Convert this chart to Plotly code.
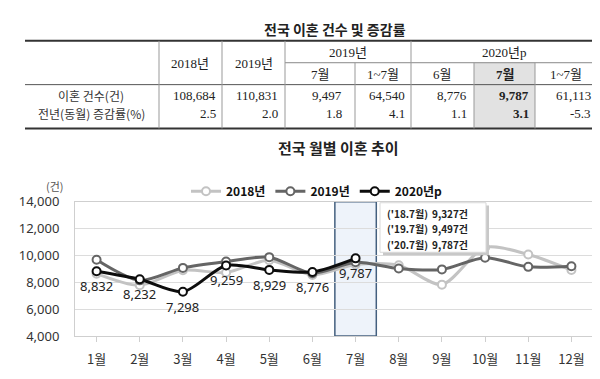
import plotly.graph_objects as go

# ---------------- data ----------------
months = ["1월", "2월", "3월", "4월", "5월", "6월", "7월", "8월", "9월", "10월", "11월", "12월"]
s2018 = [8650, 7780, 8900, 8730, 9650, 8550, 9327, 9270, 7830, 10600, 10078, 8915]
s2019 = [9684, 8150, 9077, 9545, 9877, 8681, 9497, 9030, 8965, 9837, 9156, 9199]
s2020 = [8832, 8232, 7298, 9259, 8929, 8776, 9787]
series_names = ["2018년", "2019년", "2020년p"]

table_title = "전국 이혼 건수 및 증감률"
row_labels = ["이혼 건수(건)", "전년(동월) 증감률(%)"]
col_top = ["2018년", "2019년", "2019년", "2020년p"]
col_sub = ["7월", "1~7월", "6월", "7월", "1~7월"]
row_counts = ["108,684", "110,831", "9,497", "64,540", "8,776", "9,787", "61,113"]
row_rates = ["2.5", "2.0", "1.8", "4.1", "1.1", "3.1", "-5.3"]
tooltip_lines = [("('18.7월)", "9,327건"), ("('19.7월)", "9,497건"), ("('20.7월)", "9,787건")]

W, H = 600, 379
def px(x): return x / W
def py(y): return 1 - y / H

SANS = "Noto Sans CJK KR, Noto Sans, sans-serif"
SERIF = "Liberation Serif, Noto Sans CJK KR, serif"

fig = go.Figure()

colors = ["#c3c3c3", "#656565", "#0d0d0d"]
for name, vals, col in zip(series_names, [s2018, s2019, s2020], colors):
    fig.add_trace(go.Scatter(
        x=months[:len(vals)], y=vals, name=name, mode="lines+markers",
        line=dict(color=col, width=3, shape="spline", smoothing=0.8),
        marker=dict(symbol="circle", size=8, color="white", line=dict(color=col, width=2)),
        hoverinfo="skip"))

shapes = []
annos = []

# data labels for 2020 (below the points)
for m, v in zip(months, s2020):
    annos.append(dict(x=m, y=v, xref="x", yref="y", text=f"{v:,}", showarrow=False,
                      yshift=-15, xanchor="center", yanchor="middle",
                      font=dict(family="Noto Sans, sans-serif", size=13, color="#222")))

# highlight July column
shapes.append(dict(type="rect", xref="x", yref="y", x0=5.52, x1=6.48, y0=4000, y1=14000,
                   fillcolor="#eef3fa", line=dict(color="#44607f", width=1.5), layer="below"))

# tooltip box
bx0, bx1, by0, by1 = 372, 478, 195, 247
shapes.append(dict(type="rect", xref="paper", yref="paper", x0=px(bx0 + 3), x1=px(bx1 + 3),
                   y0=py(by1 + 3), y1=py(by0 + 3), fillcolor="#c8c8c8", line=dict(width=0), layer="above"))
shapes.append(dict(type="rect", xref="paper", yref="paper", x0=px(bx0), x1=px(bx1),
                   y0=py(by1), y1=py(by0), fillcolor="white", line=dict(color="#d8d8d8", width=1), layer="above"))
for i, (a, b) in enumerate(tooltip_lines):
    yy = 206 + i * 16.5
    annos.append(dict(x=px(377), y=py(yy), xref="paper", yref="paper", text=a, showarrow=False,
                      xanchor="left", yanchor="middle", font=dict(family=SANS, size=10, color="#222", weight="bold")))
    annos.append(dict(x=px(422), y=py(yy), xref="paper", yref="paper", text=b, showarrow=False,
                      xanchor="left", yanchor="middle", font=dict(family=SANS, size=10, color="#222", weight="bold")))

# ---------------- table ----------------
def hline(y, x0, x1, w, c):
    shapes.append(dict(type="line", xref="paper", yref="paper", x0=px(x0), x1=px(x1), y0=py(y), y1=py(y),
                       line=dict(color=c, width=w)))
def vline(x, y0, y1, w, c):
    shapes.append(dict(type="line", xref="paper", yref="paper", x0=px(x), x1=px(x), y0=py(y0), y1=py(y1),
                       line=dict(color=c, width=w)))

shapes.append(dict(type="rect", xref="paper", yref="paper", x0=px(466), x1=px(527), y0=py(117), y1=py(48),
                   fillcolor="#e2e2e2", line=dict(width=0), layer="below"))
hline(25, 17, 589, 2, "#333")
hline(48, 277, 589, 1, "#888")
hline(71, 17, 589, 1, "#555")
hline(117, 17, 589, 2, "#333")
for x in [151, 214, 277, 403]:
    vline(x, 25, 117, 1, "#999")
for x in [347, 466, 527]:
    vline(x, 48, 117, 1, "#999")

def txt(x, y, s, size=13, fam=SERIF, anchor="center", bold=False, color="#222"):
    annos.append(dict(x=px(x), y=py(y), xref="paper", yref="paper", text=s, showarrow=False,
                      xanchor=anchor, yanchor="middle",
                      font=dict(family=fam, size=size, color=color, weight="bold" if bold else "normal")))

txt(327, 13, table_title, size=14, fam=SANS, bold=True)
txt(182, 49, col_top[0]); txt(246, 49, col_top[1])
txt(340, 37, col_top[2]); txt(496, 37, col_top[3])
for x, s, b in zip([312, 375, 434, 497, 558], col_sub, [False, False, False, True, False]):
    txt(x, 60, s, bold=b)
txt(83, 82, row_labels[0], size=12, fam=SANS, color="#333")
txt(83, 101, row_labels[1], size=12, fam=SANS, color="#333")
rights = [210, 272, 336, 399, 461, 523, 585]
for i, (x, a, b) in enumerate(zip(rights, row_counts, row_rates)):
    txt(x, 82, a, anchor="right", bold=(i == 5))
    txt(x, 101, b, anchor="right", bold=(i == 5))

# chart title & unit
txt(330, 137, "전국 월별 이혼 추이", size=15, fam=SANS, bold=True, color="#222")
txt(47, 177, "(건)", size=11, fam=SANS, color="#555")

fig.update_layout(
    width=W, height=H, margin=dict(l=0, r=0, t=0, b=0),
    paper_bgcolor="white", plot_bgcolor="white",
    shapes=shapes, annotations=annos,
    showlegend=True,
    legend=dict(orientation="h", x=0.515, xanchor="center", y=py(183), yanchor="middle",
                font=dict(family=SANS, size=12, color="#111", weight="bold"),
                bgcolor="rgba(0,0,0,0)", itemwidth=30, tracegroupgap=0),
    xaxis=dict(domain=[px(67), px(585)], categoryorder="array", categoryarray=months,
               showgrid=False, showline=True, linecolor="#cfcfcf", mirror=True,
               ticks="outside", ticklen=5, tickcolor="#cfcfcf",
               tickfont=dict(family=SANS, size=13, color="#333"), ticklabelstandoff=6,
               range=[-0.5, 11.5], fixedrange=True),
    yaxis=dict(domain=[py(335), py(194)], range=[4000, 14000], dtick=2000,
               tickformat=",", showgrid=True, gridcolor="#dcdcdc",
               showline=True, linecolor="#cfcfcf", mirror=True, ticks="",
               tickfont=dict(family="Noto Sans, sans-serif", size=13, color="#333"),
               ticklabelstandoff=12, fixedrange=True),
)

fig.write_html("out.html")
